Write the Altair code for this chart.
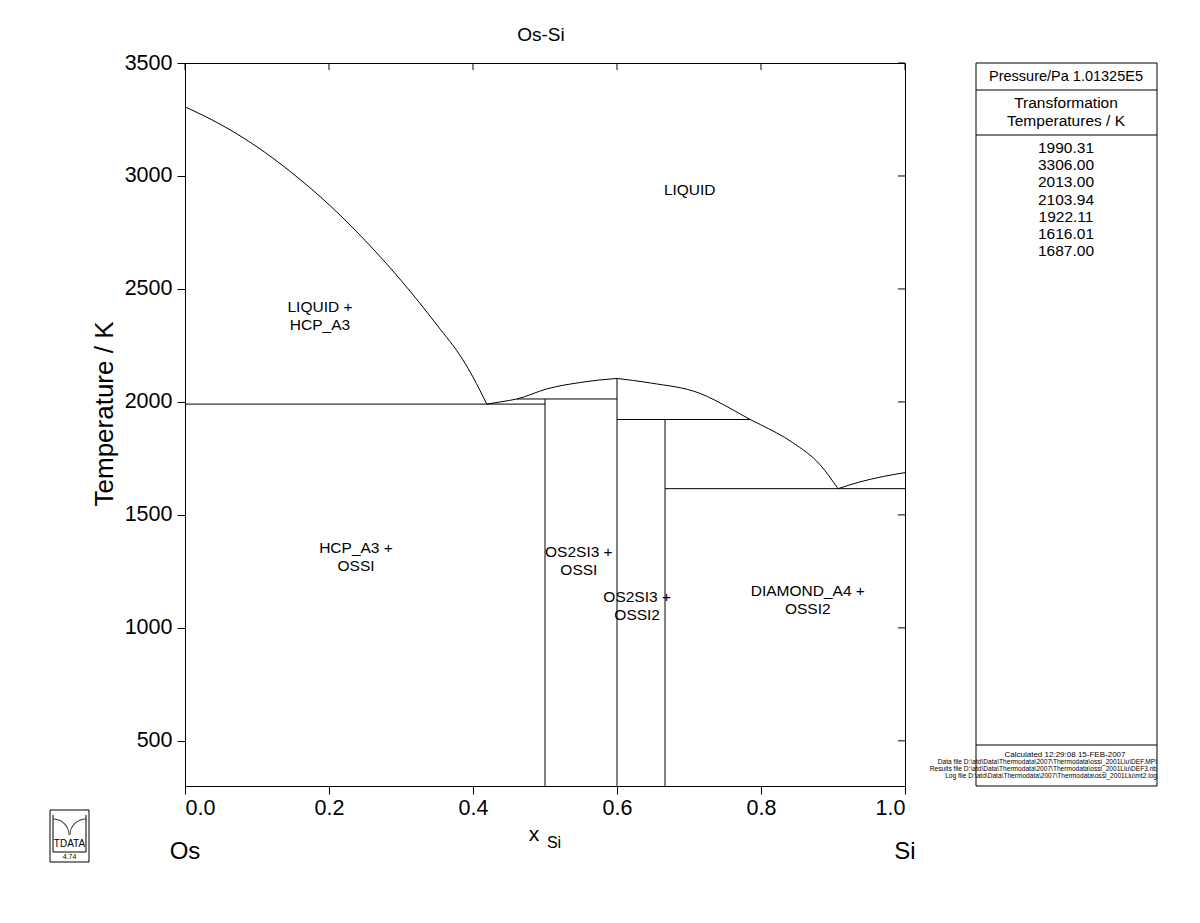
import altair as alt
import pandas as pd

FONT = "Liberation Sans"

# ---- phase boundary data (x_Si, T/K) ----
liq_hcp_x = [0.0, 0.05, 0.10, 0.15, 0.20, 0.25, 0.30, 0.35, 0.386, 0.40, 0.419]
liq_hcp_T = [3306.0, 3227, 3129, 3010, 2873, 2715, 2538, 2340, 2186, 2110, 1990.31]

liq_os2si3_left_x = [0.419, 0.44, 0.461, 0.503, 0.549, 0.576, 0.6]
liq_os2si3_left_T = [1990.31, 2001, 2013.0, 2058, 2086, 2097, 2103.94]

liq_os2si3_right_x = [0.6, 0.646, 0.715, 0.757, 0.785, 0.799, 0.844, 0.882, 0.907]
liq_os2si3_right_T = [2103.94, 2084, 2038, 1972, 1922.11, 1900, 1820, 1722, 1616.01]

liq_si_x = [0.907, 0.9375, 0.97, 1.0]
liq_si_T = [1616.01, 1646, 1670, 1687.0]

# invariant lines and compound lines
h_lines = [  # (x_start, x_end, T)
    (0.0, 0.5, 1990.31),
    (0.461, 0.6, 2013.0),
    (0.6, 0.785, 1922.11),
    (0.6667, 1.0, 1616.01),
]
v_lines = [  # (x, T_end)
    (0.5, 2013.0),
    (0.6, 2103.94),
    (0.6667, 1922.11),
]
T_MIN, T_MAX = 300, 3500

# region labels
label_text = ["LIQUID", "LIQUID +\nHCP_A3", "HCP_A3 +\nOSSI", "OS2SI3 +\nOSSI",
              "OS2SI3 +\nOSSI2", "DIAMOND_A4 +\nOSSI2"]
label_x = [0.701, 0.1875, 0.2375, 0.547, 0.628, 0.865]
label_T = [2938, 2420, 1354, 1335, 1137, 1164]

x_ticks = [0.0, 0.2, 0.4, 0.6, 0.8, 1.0]
y_ticks = [500, 1000, 1500, 2000, 2500, 3000, 3500]

trans_temps = ["1990.31", "3306.00", "2013.00", "2103.94", "1922.11", "1616.01", "1687.00"]
file_lines = [
    "Data file  D:\\atd\\Data\\Thermodata\\2007\\Thermodata\\ossi_2001Liu\\DEF.MPI",
    "Results file  D:\\atd\\Data\\Thermodata\\2007\\Thermodata\\ossi_2001Liu\\DEF3.nb",
    "Log file  D:\\atd\\Data\\Thermodata\\2007\\Thermodata\\ossi_2001Liu\\mt2.log",
]

# ---- build tables ----
rows = []
def add(seg, xs, ts):
    for i, (a, b) in enumerate(zip(xs, ts)):
        rows.append({"seg": seg, "i": i, "x": a, "T": b})

add("liq_hcp", liq_hcp_x, liq_hcp_T)
add("liq_l", liq_os2si3_left_x, liq_os2si3_left_T)
add("liq_r", liq_os2si3_right_x, liq_os2si3_right_T)
add("liq_si", liq_si_x, liq_si_T)
for k, (a, b, t) in enumerate(h_lines):
    add(f"h{k}", [a, b], [t, t])
for k, (a, t) in enumerate(v_lines):
    add(f"v{k}", [a, a], [T_MIN, t])
lines_df = pd.DataFrame(rows)

xs = alt.Scale(domain=[0, 1], nice=False, zero=False)
ys = alt.Scale(domain=[T_MIN, T_MAX], nice=False, zero=False)

base_x = alt.X("x:Q", scale=xs, axis=alt.Axis(values=x_ticks, format=".1f", title=None,
               labelFontSize=21.5, labelFont=FONT, labelColor="black", tickColor="black",
               domainColor="black", tickSize=8, labelPadding=3, grid=False))
base_y = alt.Y("T:Q", scale=ys, axis=alt.Axis(values=y_ticks, format="d", title=None,
               labelFontSize=21.5, labelFont=FONT, labelColor="black",
               tickColor="black", domainColor="black", tickSize=8, labelPadding=5, grid=False))

lines = alt.Chart(lines_df).mark_line(color="black", strokeWidth=1, clip=True,
                                      interpolate="monotone").encode(
    x=base_x, y=base_y, detail="seg:N", order="i:Q")

labels_df = pd.DataFrame({"x": label_x, "T": label_T, "txt": label_text})
labels = alt.Chart(labels_df).mark_text(font=FONT, fontSize=15.5, lineBreak="\n",
                                        align="center", baseline="middle", lineHeight=18).encode(
    x=alt.X("x:Q", scale=xs), y=alt.Y("T:Q", scale=ys), text="txt:N")

# inward ticks on top and right
top_ticks = alt.Chart(pd.DataFrame({"x": x_ticks})).mark_rule(color="black").encode(
    x=alt.X("x:Q", scale=xs), y=alt.value(0), y2=alt.value(7))
right_ticks = alt.Chart(pd.DataFrame({"T": y_ticks})).mark_rule(color="black").encode(
    y=alt.Y("T:Q", scale=ys), x=alt.value(713), x2=alt.value(720))

one = pd.DataFrame({"d": [0]})

def txt(s, x, y, size, align="center", baseline="middle", angle=0):
    return alt.Chart(one).mark_text(text=s, font=FONT, fontSize=size, align=align,
                                    baseline=baseline, color="black", angle=angle).encode(
        x=alt.value(x), y=alt.value(y))

def rule(x1, x2, y1, y2, w=1):
    return alt.Chart(one).mark_rule(color="black", strokeWidth=w).encode(
        x=alt.value(x1), x2=alt.value(x2), y=alt.value(y1), y2=alt.value(y2))

def arc(cx, cy, r, t1, t2):
    return alt.Chart(one).mark_arc(radius=r, radius2=r - 0.9, theta=t1, theta2=t2,
                                   color="#333333").encode(x=alt.value(cx), y=alt.value(cy))

title = txt("Os-Si", 356, -28, 19)
y_title = txt("Temperature / K", -80, 351, 26, angle=270)
x_title = txt("x", 349, 772, 21)
x_sub = txt("Si", 369, 780, 16)
os_lbl = txt("Os", 0, 789, 24)
si_lbl = txt("Si", 720, 789, 24)

# right information panel
panel_box = alt.Chart(one).mark_rect(fillOpacity=0, stroke="black", strokeWidth=1).encode(
    x=alt.value(791), x2=alt.value(972), y=alt.value(0), y2=alt.value(723))
panel_rules = [rule(791, 972, 27, 27), rule(791, 972, 72, 72), rule(791, 972, 682, 682)]
panel_texts = [
    txt("Pressure/Pa  1.01325E5", 881, 14, 14.5),
    txt("Transformation", 881, 40, 15.5),
    txt("Temperatures / K", 881, 58, 15.5),
    txt("Calculated  12:29:08  15-FEB-2007", 880, 692, 8),
]
temps_df = pd.DataFrame({"v": trans_temps})
temps = alt.Chart(temps_df).transform_window(
    idx="row_number()").transform_calculate(py="85 + (datum.idx - 1) * 17.2").mark_text(
    font=FONT, fontSize=15.5, align="center", baseline="middle", color="black").encode(
    x=alt.value(881), y=alt.Y("py:Q", scale=None), text="v:N")
files_df = pd.DataFrame({"v": file_lines})
files = alt.Chart(files_df).transform_window(
    idx="row_number()").transform_calculate(py="699 + (datum.idx - 1) * 7").mark_text(
    font=FONT, fontSize=6.6, align="right", baseline="middle", color="black").encode(
    x=alt.value(972), y=alt.Y("py:Q", scale=None), text="v:N")

# logo
logo_box = alt.Chart(one).mark_rect(fillOpacity=0, stroke="black", strokeWidth=1).encode(
    x=alt.value(-135), x2=alt.value(-96), y=alt.value(747), y2=alt.value(799))
logo_parts = [rule(-132, -99, 789, 789), rule(-132, -132, 752, 789), rule(-99, -99, 752, 789),
              arc(-132, 772, 16.5, 0, 1.5708), arc(-99, 772, 16.5, 4.7124, 6.2832),
              txt("TDATA", -115.5, 781, 10), txt("4.74", -115.5, 794, 7)]

chart = alt.layer(lines, labels, top_ticks, right_ticks, title, y_title, x_title, x_sub,
                  os_lbl, si_lbl, panel_box, *panel_rules, *panel_texts, temps, files,
                  logo_box, *logo_parts
                  ).properties(
    width=720, height=723,
    padding={"left": 185, "top": 63, "right": 295, "bottom": 137},
    autosize=alt.AutoSizeParams(type="none"),
    background="white",
).configure_view(stroke="black", strokeWidth=1)

chart.save("out.html", embed_options={"renderer": "svg", "actions": False})
